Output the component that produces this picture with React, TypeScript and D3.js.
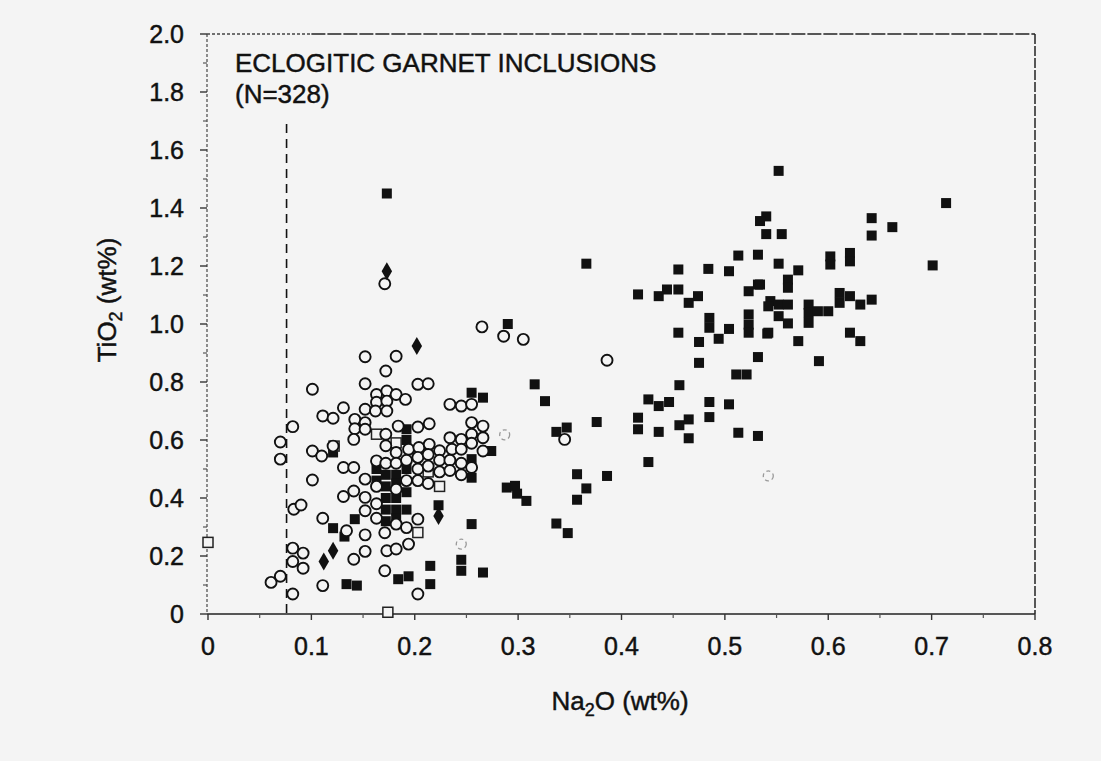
import React from 'react';
import * as d3 from 'd3';

// tick values + labels
const xTickValues = [0, 0.1, 0.2, 0.3, 0.4, 0.5, 0.6, 0.7, 0.8];
const xTickLabels = ['0', '0.1', '0.2', '0.3', '0.4', '0.5', '0.6', '0.7', '0.8'];
const yTickValues = [0, 0.2, 0.4, 0.6, 0.8, 1.0, 1.2, 1.4, 1.6, 1.8, 2.0];
const yTickLabels = ['0', '0.2', '0.4', '0.6', '0.8', '1.0', '1.2', '1.4', '1.6', '1.8', '2.0'];

const cutoffNa2O = 0.076;
const cutoffTop = 1.69;

// Na2O, TiO2 (wt%)
const openCircles: [number, number][] = [
  [0.061, 0.109], [0.070, 0.130], [0.082, 0.069], [0.082, 0.181], [0.092, 0.158],
  [0.082, 0.227], [0.092, 0.210], [0.083, 0.361], [0.090, 0.376], [0.070, 0.534],
  [0.070, 0.593], [0.082, 0.646], [0.101, 0.775], [0.101, 0.562], [0.110, 0.545],
  [0.101, 0.462], [0.111, 0.683], [0.121, 0.675], [0.121, 0.579], [0.111, 0.330],
  [0.111, 0.098], [0.131, 0.711], [0.131, 0.505], [0.131, 0.405], [0.134, 0.287],
  [0.142, 0.671], [0.142, 0.639], [0.141, 0.602], [0.141, 0.505], [0.141, 0.424],
  [0.141, 0.189], [0.152, 0.887], [0.152, 0.794], [0.152, 0.706], [0.152, 0.660],
  [0.152, 0.637], [0.152, 0.465], [0.152, 0.402], [0.152, 0.356], [0.152, 0.273],
  [0.152, 0.216], [0.163, 0.757], [0.163, 0.730], [0.163, 0.528], [0.162, 0.700],
  [0.163, 0.440], [0.163, 0.380], [0.163, 0.330],
  [0.171, 1.139], [0.172, 0.838], [0.173, 0.769], [0.173, 0.734], [0.173, 0.700],
  [0.172, 0.620], [0.172, 0.580], [0.172, 0.520], [0.171, 0.280], [0.173, 0.218],
  [0.171, 0.149],
  [0.182, 0.889], [0.182, 0.757], [0.184, 0.648], [0.182, 0.557], [0.182, 0.520],
  [0.182, 0.430], [0.182, 0.310], [0.182, 0.224],
  [0.191, 0.740], [0.194, 0.568], [0.192, 0.530], [0.192, 0.460], [0.192, 0.298],
  [0.194, 0.241],
  [0.203, 0.792], [0.203, 0.645], [0.204, 0.574], [0.203, 0.540], [0.203, 0.500],
  [0.203, 0.460], [0.203, 0.327], [0.203, 0.069],
  [0.213, 0.794], [0.214, 0.656], [0.214, 0.585], [0.213, 0.550], [0.213, 0.510],
  [0.213, 0.450],
  [0.224, 0.563], [0.224, 0.530], [0.224, 0.490],
  [0.234, 0.723], [0.234, 0.608], [0.236, 0.568], [0.234, 0.530], [0.234, 0.495],
  [0.245, 0.717], [0.245, 0.602], [0.245, 0.568], [0.245, 0.520], [0.245, 0.480],
  [0.255, 0.723], [0.255, 0.660], [0.255, 0.620], [0.255, 0.589], [0.255, 0.505],
  [0.266, 0.648], [0.266, 0.608], [0.266, 0.562],
  [0.265, 0.990], [0.286, 0.958], [0.305, 0.947], [0.386, 0.875], [0.345, 0.602],
];

const filledSquares: [number, number][] = [
  [0.121, 0.557], [0.121, 0.296], [0.132, 0.267], [0.142, 0.327], [0.134, 0.103],
  [0.144, 0.098], [0.173, 1.450], [0.163, 0.500], [0.163, 0.460], [0.172, 0.480],
  [0.172, 0.440], [0.172, 0.400], [0.172, 0.360], [0.172, 0.320], [0.182, 0.480],
  [0.182, 0.450], [0.182, 0.400], [0.182, 0.360], [0.182, 0.330], [0.192, 0.637],
  [0.192, 0.600], [0.192, 0.500], [0.192, 0.420], [0.192, 0.360], [0.184, 0.120],
  [0.194, 0.130], [0.215, 0.166], [0.215, 0.103], [0.223, 0.375], [0.255, 0.763],
  [0.266, 0.746], [0.274, 0.562], [0.255, 0.534], [0.255, 0.470], [0.255, 0.310],
  [0.245, 0.187], [0.245, 0.149], [0.266, 0.143], [0.289, 0.436], [0.297, 0.442],
  [0.299, 0.415], [0.308, 0.390], [0.290, 1.000], [0.316, 0.792], [0.326, 0.734],
  [0.366, 1.208], [0.455, 1.188], [0.484, 1.190], [0.504, 1.182], [0.513, 1.236],
  [0.532, 1.239], [0.540, 1.310], [0.555, 1.310], [0.416, 1.102], [0.436, 1.096],
  [0.444, 1.119], [0.455, 1.119], [0.465, 1.073], [0.474, 1.096], [0.523, 1.113],
  [0.532, 1.136], [0.544, 1.079], [0.485, 1.021], [0.485, 0.987], [0.523, 1.033],
  [0.523, 0.998], [0.523, 0.970], [0.455, 0.970], [0.475, 0.938], [0.494, 0.949],
  [0.504, 0.983], [0.541, 0.967], [0.532, 0.886], [0.475, 0.866], [0.511, 0.826],
  [0.521, 0.826], [0.456, 0.789], [0.426, 0.740], [0.436, 0.717], [0.446, 0.731],
  [0.485, 0.731], [0.504, 0.723], [0.485, 0.679], [0.416, 0.677], [0.416, 0.637],
  [0.436, 0.628], [0.456, 0.651], [0.465, 0.671], [0.465, 0.606], [0.513, 0.625],
  [0.532, 0.614], [0.376, 0.662], [0.337, 0.628], [0.347, 0.643], [0.426, 0.524],
  [0.357, 0.482], [0.386, 0.476], [0.366, 0.433], [0.357, 0.394], [0.337, 0.312],
  [0.348, 0.279],
  [0.552, 1.528], [0.714, 1.417], [0.642, 1.365], [0.662, 1.334], [0.642, 1.305],
  [0.701, 1.202], [0.540, 1.371], [0.534, 1.355], [0.602, 1.233], [0.602, 1.205],
  [0.621, 1.245], [0.621, 1.216], [0.552, 1.208], [0.571, 1.185], [0.561, 1.153],
  [0.561, 1.125], [0.534, 1.136], [0.542, 1.061], [0.552, 1.067], [0.561, 1.067],
  [0.552, 1.027], [0.561, 1.002], [0.542, 0.970], [0.571, 0.941], [0.581, 1.067],
  [0.581, 1.038], [0.581, 1.004], [0.590, 1.044], [0.600, 1.044], [0.611, 1.107],
  [0.611, 1.073], [0.621, 1.096], [0.631, 1.067], [0.642, 1.084], [0.621, 0.970],
  [0.631, 0.941], [0.591, 0.872],
];

const filledDiamonds: [number, number][] = [
  [0.173, 1.182], [0.202, 0.924], [0.112, 0.181], [0.121, 0.218], [0.223, 0.338],
];

const openSquares: [number, number][] = [
  [0.0, 0.247], [0.174, 0.006], [0.203, 0.281], [0.122, 0.579], [0.163, 0.620],
  [0.182, 0.590], [0.213, 0.490], [0.224, 0.440],
];

const faintMarks: [number, number][] = [
  [0.287, 0.618], [0.245, 0.241], [0.542, 0.476],
];

const FONT = "'Liberation Sans', Arial, Helvetica, sans-serif";
const PAPER = '#f4f4f4';
const INK = '#111';

export default function App() {
  const width = 1101;
  const height = 761;

  const x = d3.scaleLinear().domain([0, 0.8]).range([208, 1035]);
  const y = d3.scaleLinear().domain([0, 2]).range([614, 34]);

  const x0 = x(0) - 1;
  const x1 = x(0.8);
  const yTop = y(2);
  const yBot = y(0);

  const xMinor = d3.range(0.05, 0.8, 0.1);
  const yMinor = d3.range(0.1, 2.0, 0.2);

  const diamond = d3.symbol().type(d3.symbolDiamond).size(95)();

  // slightly heavier text, like the scanned print
  const textStyle = { fontFamily: FONT, fill: INK, stroke: INK, strokeWidth: 0.45 };

  return (
    <svg width={width} height={height} style={{ position: 'absolute', left: 0, top: 0 }}>
      <rect width={width} height={height} fill={PAPER} />

      {/* frame */}
      <line x1={x0} x2={x0} y1={yTop} y2={yBot} stroke="#555" strokeWidth={1.3} strokeDasharray="3 2" />
      <line x1={x0} x2={x1} y1={yBot} y2={yBot} stroke="#222" strokeWidth={1.7} />
      <line x1={x0} x2={x(0.1)} y1={yTop} y2={yTop} stroke="#444" strokeWidth={1.3} strokeDasharray="3 2" />
      <line x1={x(0.1)} x2={x1} y1={yTop} y2={yTop} stroke="#222" strokeWidth={1.5} strokeDasharray="14 2" />
      <line x1={x1} x2={x1} y1={yTop} y2={yBot} stroke="#222" strokeWidth={1.5} strokeDasharray="10 2" />

      {/* y ticks */}
      {yTickValues.map((v, i) => (
        <g key={'yt' + i}>
          <line x1={x0 - 7} x2={x0} y1={y(v)} y2={y(v)} stroke="#333" strokeWidth={1.4} />
          <text x={184} y={y(v)} dy="0.36em" textAnchor="end" fontSize={25} {...textStyle}>
            {yTickLabels[i]}
          </text>
        </g>
      ))}
      {yMinor.map((v, i) => (
        <line key={'ym' + i} x1={x0 - 4} x2={x0} y1={y(v)} y2={y(v)} stroke="#555" strokeWidth={1.2} />
      ))}

      {/* x ticks */}
      {xTickValues.map((v, i) => (
        <g key={'xt' + i}>
          <line x1={x(v)} x2={x(v)} y1={yBot} y2={yBot + 6} stroke="#333" strokeWidth={1.4} />
          <text x={x(v)} y={655} textAnchor="middle" fontSize={25} {...textStyle}>
            {xTickLabels[i]}
          </text>
        </g>
      ))}
      {xMinor.map((v, i) => (
        <line key={'xm' + i} x1={x(v)} x2={x(v)} y1={yBot} y2={yBot + 4} stroke="#555" strokeWidth={1.2} />
      ))}

      {/* cutoff line */}
      <line x1={x(cutoffNa2O)} x2={x(cutoffNa2O)} y1={y(cutoffTop)} y2={yBot}
        stroke={INK} strokeWidth={1.6} strokeDasharray="9 6" />

      {/* points */}
      {filledSquares.map((d, i) => (
        <rect key={'fs' + i} x={x(d[0]) - 5} y={y(d[1]) - 5} width={10} height={10} fill={INK} />
      ))}
      {openSquares.map((d, i) => (
        <rect key={'os' + i} x={x(d[0]) - 5} y={y(d[1]) - 5} width={10} height={10}
          fill={PAPER} stroke="#222" strokeWidth={1.5} />
      ))}
      {openCircles.map((d, i) => (
        <circle key={'oc' + i} cx={x(d[0])} cy={y(d[1])} r={5.5}
          fill={PAPER} stroke={INK} strokeWidth={1.9} />
      ))}
      {faintMarks.map((d, i) => (
        <circle key={'fm' + i} cx={x(d[0])} cy={y(d[1])} r={5}
          fill="none" stroke="#999" strokeWidth={1.3} strokeDasharray="4 3" />
      ))}
      {filledDiamonds.map((d, i) => (
        <path key={'fd' + i} d={diamond} transform={`translate(${x(d[0])},${y(d[1])})`} fill={INK} />
      ))}

      {/* annotation */}
      <text x={235} y={72} fontSize={26} {...textStyle}>ECLOGITIC GARNET INCLUSIONS</text>
      <text x={235} y={103} fontSize={26} {...textStyle}>(N=328)</text>

      {/* axis titles */}
      <text x={620} y={710} textAnchor="middle" fontSize={26} {...textStyle}>
        Na<tspan fontSize={18} dy={6}>2</tspan><tspan dy={-6}>O (wt%)</tspan>
      </text>
      <text transform="translate(116,300) rotate(-90)" textAnchor="middle" fontSize={26} {...textStyle}>
        TiO<tspan fontSize={18} dy={6}>2</tspan><tspan dy={-6}> (wt%)</tspan>
      </text>
    </svg>
  );
}
